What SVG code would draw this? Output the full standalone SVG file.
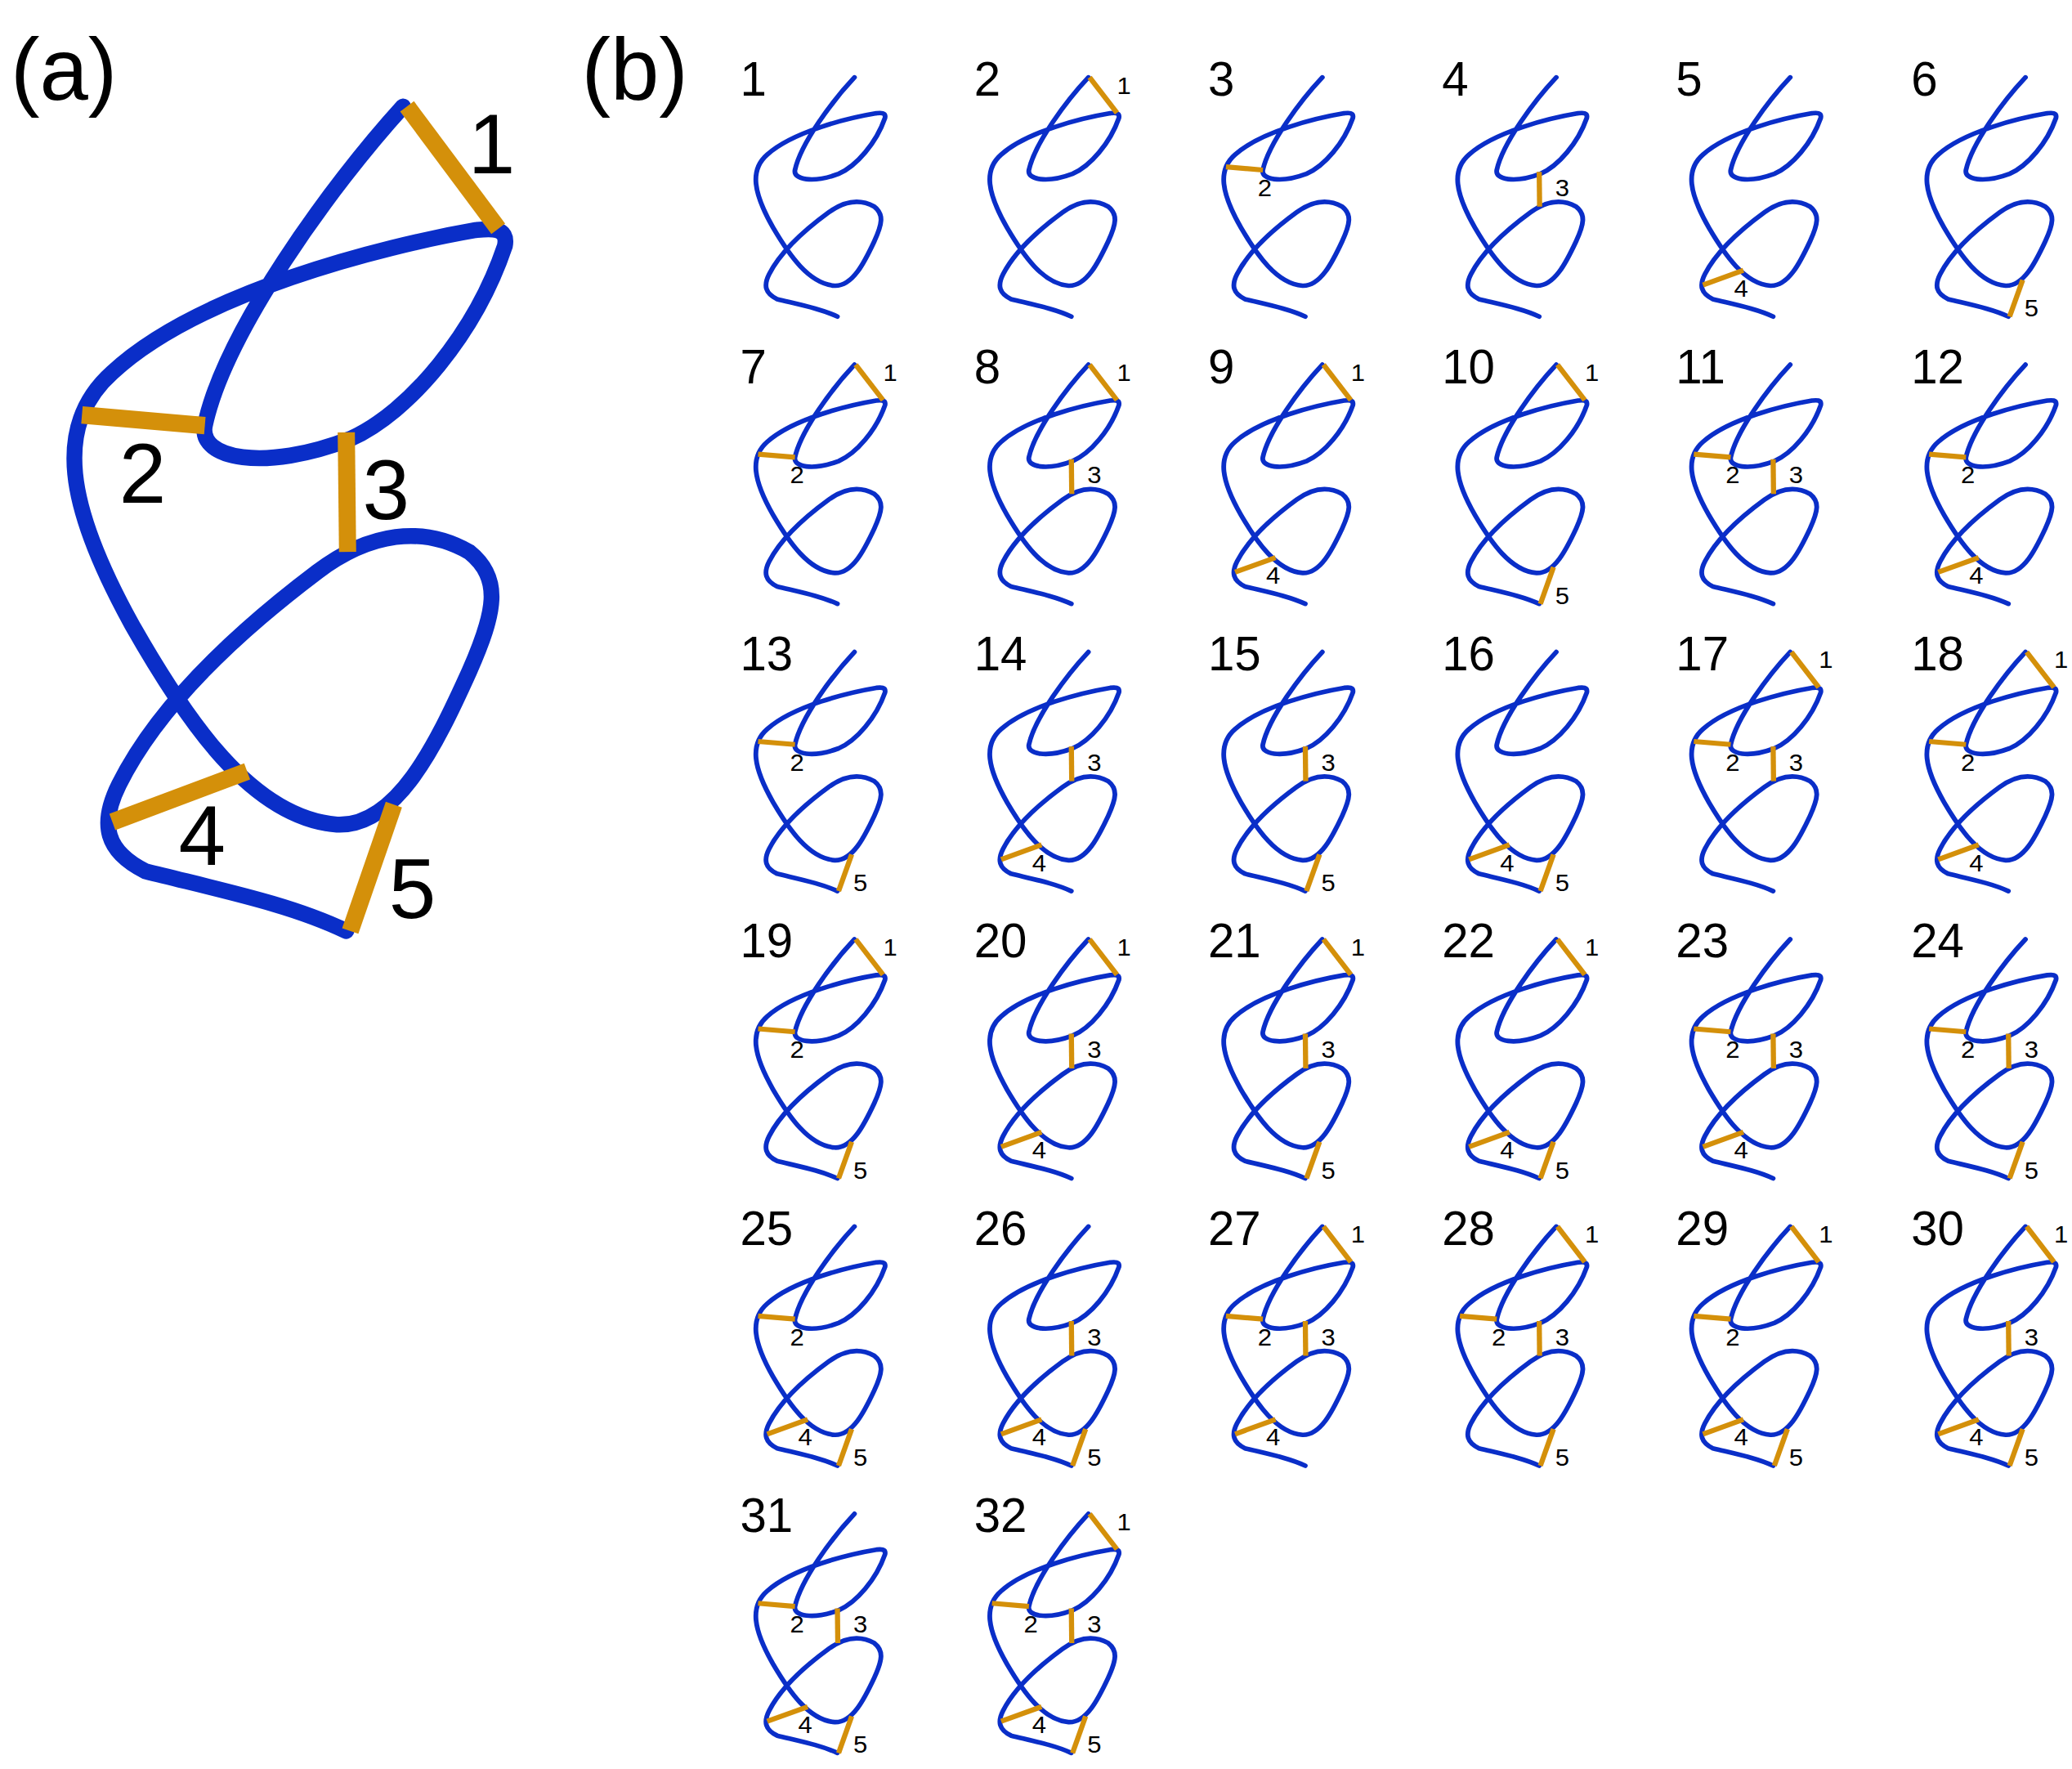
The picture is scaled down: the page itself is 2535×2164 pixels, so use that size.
<svg xmlns="http://www.w3.org/2000/svg" xmlns:xlink="http://www.w3.org/1999/xlink" width="2535" height="2164" viewBox="0 0 2535 2164">
<style>
.s{fill:none;stroke:#0a2ec8;stroke-width:12;stroke-linecap:round}
.b{stroke:#d4900a;stroke-width:13}
text{font-family:"Liberation Sans",Arial,sans-serif;fill:#000}
.big{font-size:64px;text-anchor:middle}
.pl{font-size:66px}
.n{font-size:36px}
.sl{font-size:64px;text-anchor:middle}
</style>
<defs>
<path id="strand" class="s" d="M305,80 C250,140 170,250 155,320 C150,345 200,355 265,330 C310,310 360,250 382,185 C385,170 370,172 360,173 C290,185 150,220 85,280 C40,320 50,380 100,470 C140,540 190,615 255,620 C300,622 330,560 355,505 C375,460 380,435 355,415 C320,395 280,400 240,430 C180,475 120,530 90,590 C75,620 80,640 110,655 C170,670 220,680 262,700"/>
<line id="b1" class="b" x1="308" y1="80" x2="377" y2="172"/>
<line id="b2" class="b" x1="62" y1="312" x2="155" y2="320"/>
<line id="b3" class="b" x1="262" y1="325" x2="263" y2="415"/>
<line id="b4" class="b" x1="85" y1="618" x2="187" y2="580"/>
<line id="b5" class="b" x1="298" y1="605" x2="265" y2="700"/>
<g id="l1"><use xlink:href="#b1"/><text class="sl" x="395" y="122">1</text></g>
<g id="l2"><use xlink:href="#b2"/><text class="sl" x="160" y="388">2</text></g>
<g id="l3"><use xlink:href="#b3"/><text class="sl" x="320" y="388">3</text></g>
<g id="l4"><use xlink:href="#b4"/><text class="sl" x="181" y="648">4</text></g>
<g id="l5"><use xlink:href="#b5"/><text class="sl" x="320" y="700">5</text></g>
</defs>
<g transform="scale(1.617,1.627)">
<g id="panelA">
<text class="pl" x="8" y="75">(a)</text>
<use xlink:href="#strand"/>
<use xlink:href="#b1"/><use xlink:href="#b2"/><use xlink:href="#b3"/><use xlink:href="#b4"/><use xlink:href="#b5"/>
<text class="big" x="372" y="130">1</text>
<text class="big" x="108" y="378">2</text>
<text class="big" x="292" y="390">3</text>
<text class="big" x="153" y="650">4</text>
<text class="big" x="312" y="690">5</text>
</g>
<text class="pl" x="440" y="75">(b)</text>
<g id="p1"><text class="n" x="560" y="72">1</text><g transform="translate(555,35) scale(0.3,0.29)"><use xlink:href="#strand"/></g></g>
<g id="p2"><text class="n" x="737" y="72">2</text><g transform="translate(732,35) scale(0.3,0.29)"><use xlink:href="#strand"/><use xlink:href="#l1"/></g></g>
<g id="p3"><text class="n" x="914" y="72">3</text><g transform="translate(909,35) scale(0.3,0.29)"><use xlink:href="#strand"/><use xlink:href="#l2"/></g></g>
<g id="p4"><text class="n" x="1091" y="72">4</text><g transform="translate(1086,35) scale(0.3,0.29)"><use xlink:href="#strand"/><use xlink:href="#l3"/></g></g>
<g id="p5"><text class="n" x="1268" y="72">5</text><g transform="translate(1263,35) scale(0.3,0.29)"><use xlink:href="#strand"/><use xlink:href="#l4"/></g></g>
<g id="p6"><text class="n" x="1446" y="72">6</text><g transform="translate(1441,35) scale(0.3,0.29)"><use xlink:href="#strand"/><use xlink:href="#l5"/></g></g>
<g id="p7"><text class="n" x="560" y="288">7</text><g transform="translate(555,251) scale(0.3,0.29)"><use xlink:href="#strand"/><use xlink:href="#l1"/><use xlink:href="#l2"/></g></g>
<g id="p8"><text class="n" x="737" y="288">8</text><g transform="translate(732,251) scale(0.3,0.29)"><use xlink:href="#strand"/><use xlink:href="#l1"/><use xlink:href="#l3"/></g></g>
<g id="p9"><text class="n" x="914" y="288">9</text><g transform="translate(909,251) scale(0.3,0.29)"><use xlink:href="#strand"/><use xlink:href="#l1"/><use xlink:href="#l4"/></g></g>
<g id="p10"><text class="n" x="1091" y="288">10</text><g transform="translate(1086,251) scale(0.3,0.29)"><use xlink:href="#strand"/><use xlink:href="#l1"/><use xlink:href="#l5"/></g></g>
<g id="p11"><text class="n" x="1268" y="288">11</text><g transform="translate(1263,251) scale(0.3,0.29)"><use xlink:href="#strand"/><use xlink:href="#l2"/><use xlink:href="#l3"/></g></g>
<g id="p12"><text class="n" x="1446" y="288">12</text><g transform="translate(1441,251) scale(0.3,0.29)"><use xlink:href="#strand"/><use xlink:href="#l2"/><use xlink:href="#l4"/></g></g>
<g id="p13"><text class="n" x="560" y="504">13</text><g transform="translate(555,467) scale(0.3,0.29)"><use xlink:href="#strand"/><use xlink:href="#l2"/><use xlink:href="#l5"/></g></g>
<g id="p14"><text class="n" x="737" y="504">14</text><g transform="translate(732,467) scale(0.3,0.29)"><use xlink:href="#strand"/><use xlink:href="#l3"/><use xlink:href="#l4"/></g></g>
<g id="p15"><text class="n" x="914" y="504">15</text><g transform="translate(909,467) scale(0.3,0.29)"><use xlink:href="#strand"/><use xlink:href="#l3"/><use xlink:href="#l5"/></g></g>
<g id="p16"><text class="n" x="1091" y="504">16</text><g transform="translate(1086,467) scale(0.3,0.29)"><use xlink:href="#strand"/><use xlink:href="#l4"/><use xlink:href="#l5"/></g></g>
<g id="p17"><text class="n" x="1268" y="504">17</text><g transform="translate(1263,467) scale(0.3,0.29)"><use xlink:href="#strand"/><use xlink:href="#l1"/><use xlink:href="#l2"/><use xlink:href="#l3"/></g></g>
<g id="p18"><text class="n" x="1446" y="504">18</text><g transform="translate(1441,467) scale(0.3,0.29)"><use xlink:href="#strand"/><use xlink:href="#l1"/><use xlink:href="#l2"/><use xlink:href="#l4"/></g></g>
<g id="p19"><text class="n" x="560" y="720">19</text><g transform="translate(555,683) scale(0.3,0.29)"><use xlink:href="#strand"/><use xlink:href="#l1"/><use xlink:href="#l2"/><use xlink:href="#l5"/></g></g>
<g id="p20"><text class="n" x="737" y="720">20</text><g transform="translate(732,683) scale(0.3,0.29)"><use xlink:href="#strand"/><use xlink:href="#l1"/><use xlink:href="#l3"/><use xlink:href="#l4"/></g></g>
<g id="p21"><text class="n" x="914" y="720">21</text><g transform="translate(909,683) scale(0.3,0.29)"><use xlink:href="#strand"/><use xlink:href="#l1"/><use xlink:href="#l3"/><use xlink:href="#l5"/></g></g>
<g id="p22"><text class="n" x="1091" y="720">22</text><g transform="translate(1086,683) scale(0.3,0.29)"><use xlink:href="#strand"/><use xlink:href="#l1"/><use xlink:href="#l4"/><use xlink:href="#l5"/></g></g>
<g id="p23"><text class="n" x="1268" y="720">23</text><g transform="translate(1263,683) scale(0.3,0.29)"><use xlink:href="#strand"/><use xlink:href="#l2"/><use xlink:href="#l3"/><use xlink:href="#l4"/></g></g>
<g id="p24"><text class="n" x="1446" y="720">24</text><g transform="translate(1441,683) scale(0.3,0.29)"><use xlink:href="#strand"/><use xlink:href="#l2"/><use xlink:href="#l3"/><use xlink:href="#l5"/></g></g>
<g id="p25"><text class="n" x="560" y="936">25</text><g transform="translate(555,899) scale(0.3,0.29)"><use xlink:href="#strand"/><use xlink:href="#l2"/><use xlink:href="#l4"/><use xlink:href="#l5"/></g></g>
<g id="p26"><text class="n" x="737" y="936">26</text><g transform="translate(732,899) scale(0.3,0.29)"><use xlink:href="#strand"/><use xlink:href="#l3"/><use xlink:href="#l4"/><use xlink:href="#l5"/></g></g>
<g id="p27"><text class="n" x="914" y="936">27</text><g transform="translate(909,899) scale(0.3,0.29)"><use xlink:href="#strand"/><use xlink:href="#l1"/><use xlink:href="#l2"/><use xlink:href="#l3"/><use xlink:href="#l4"/></g></g>
<g id="p28"><text class="n" x="1091" y="936">28</text><g transform="translate(1086,899) scale(0.3,0.29)"><use xlink:href="#strand"/><use xlink:href="#l1"/><use xlink:href="#l2"/><use xlink:href="#l3"/><use xlink:href="#l5"/></g></g>
<g id="p29"><text class="n" x="1268" y="936">29</text><g transform="translate(1263,899) scale(0.3,0.29)"><use xlink:href="#strand"/><use xlink:href="#l1"/><use xlink:href="#l2"/><use xlink:href="#l4"/><use xlink:href="#l5"/></g></g>
<g id="p30"><text class="n" x="1446" y="936">30</text><g transform="translate(1441,899) scale(0.3,0.29)"><use xlink:href="#strand"/><use xlink:href="#l1"/><use xlink:href="#l3"/><use xlink:href="#l4"/><use xlink:href="#l5"/></g></g>
<g id="p31"><text class="n" x="560" y="1152">31</text><g transform="translate(555,1115) scale(0.3,0.29)"><use xlink:href="#strand"/><use xlink:href="#l2"/><use xlink:href="#l3"/><use xlink:href="#l4"/><use xlink:href="#l5"/></g></g>
<g id="p32"><text class="n" x="737" y="1152">32</text><g transform="translate(732,1115) scale(0.3,0.29)"><use xlink:href="#strand"/><use xlink:href="#l1"/><use xlink:href="#l2"/><use xlink:href="#l3"/><use xlink:href="#l4"/><use xlink:href="#l5"/></g></g>
</g>
</svg>
